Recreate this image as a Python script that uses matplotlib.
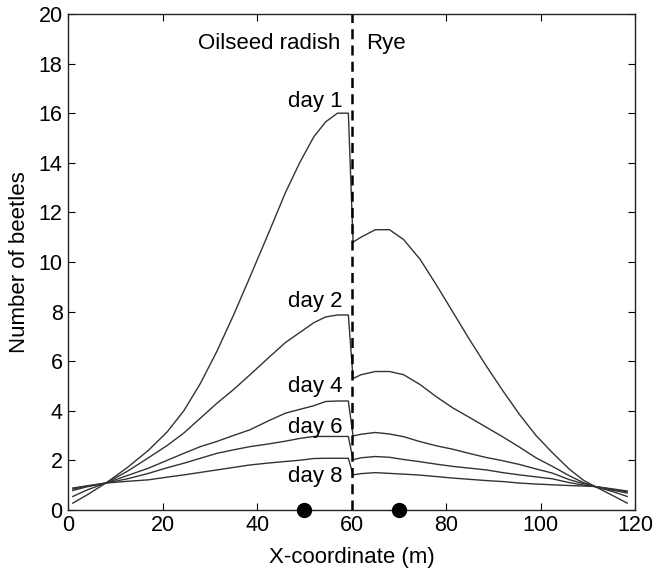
import matplotlib
matplotlib.use('Agg')
import matplotlib.pyplot as plt

plt.rcParams['font.family'] = ['Liberation Sans', 'DejaVu Sans']

# x positions (m) shared by all curves
x = [1, 4, 8, 12.5, 17, 21, 24.5, 28, 31.5, 35, 38.5, 42.5, 46, 49, 52, 54.5, 57, 59.3,
     60.3, 62, 65, 68, 71, 74.5, 78, 81.5, 85, 88.5, 92, 95.5, 99, 102.5, 106, 109, 111.5, 115, 118.3]

day1 = [0.27, 0.6, 1.08, 1.7, 2.4, 3.15, 4.0, 5.1, 6.4, 7.85, 9.4, 11.2, 12.8, 14.0, 15.05, 15.65, 16.0, 16.0,
        10.8, 11.0, 11.3, 11.3, 10.9, 10.1, 9.05, 7.95, 6.85, 5.8, 4.8, 3.85, 3.0, 2.3, 1.65, 1.2, 0.94, 0.6, 0.27]
day2 = [0.54, 0.8, 1.08, 1.55, 2.1, 2.6, 3.1, 3.7, 4.3, 4.85, 5.45, 6.15, 6.75, 7.15, 7.55, 7.78, 7.86, 7.86,
        5.3, 5.45, 5.58, 5.58, 5.45, 5.05, 4.55, 4.1, 3.72, 3.33, 2.94, 2.53, 2.1, 1.75, 1.38, 1.1, 0.94, 0.75, 0.54]
day4 = [0.78, 0.93, 1.08, 1.38, 1.68, 2.0, 2.28, 2.55, 2.76, 3.0, 3.23, 3.6, 3.9, 4.05, 4.2, 4.37, 4.39, 4.39,
        2.98, 3.05, 3.12, 3.06, 2.95, 2.75, 2.58, 2.44, 2.27, 2.11, 1.98, 1.83, 1.65, 1.48, 1.22, 1.06, 0.94, 0.8, 0.68]
day6 = [0.84, 0.95, 1.08, 1.25, 1.47, 1.7, 1.88, 2.08, 2.28, 2.42, 2.55, 2.66, 2.77, 2.88, 2.96, 2.96, 2.96, 2.96,
        2.02, 2.1, 2.15, 2.12, 2.03, 1.94, 1.84, 1.75, 1.68, 1.61, 1.5, 1.41, 1.33, 1.25, 1.1, 1.0, 0.94, 0.83, 0.72]
day8 = [0.88, 0.97, 1.08, 1.15, 1.21, 1.32, 1.41, 1.51, 1.61, 1.71, 1.81, 1.89, 1.95, 2.0, 2.07, 2.08, 2.08, 2.08,
        1.41, 1.46, 1.5, 1.47, 1.44, 1.4, 1.34, 1.28, 1.23, 1.18, 1.14, 1.08, 1.04, 1.01, 0.98, 0.96, 0.94, 0.85, 0.76]

curves = [day1, day2, day4, day6, day8]
day_labels = ['day 1', 'day 2', 'day 4', 'day 6', 'day 8']
label_y = [16.26, 8.2, 4.77, 3.09, 1.14]

boundary_x = 60
trap_x = [50, 70]

fig = plt.figure(figsize=(6.61, 5.84), dpi=100)
ax = fig.add_axes([0.103, 0.127, 0.858, 0.849])

for c in curves:
    ax.plot(x, c, color='#333333', linewidth=1.0)

# field boundary
ax.plot([boundary_x, boundary_x], [0, 20], color='black', linewidth=1.8, linestyle=(0, (4, 2.5)))

# traps
ax.plot(trap_x, [0, 0], 'o', color='black', markersize=10, clip_on=False, zorder=5)

for lab, yy in zip(day_labels, label_y):
    ax.text(58.1, yy, lab, ha='right', va='baseline', fontsize=16)

ax.text(57.7, 18.58, 'Oilseed radish', ha='right', va='baseline', fontsize=16)
ax.text(63, 18.58, 'Rye', ha='left', va='baseline', fontsize=16)

ax.set_xlim(0, 120)
ax.set_ylim(0, 20)
ax.set_xticks(range(0, 121, 20))
ax.set_yticks(range(0, 21, 2))
ax.tick_params(direction='in', top=True, right=True, length=5, labelsize=15.5, pad=4)
for s in ax.spines.values():
    s.set_linewidth(1.0)
    s.set_color('#222222')

ax.set_xlabel('X-coordinate (m)', fontsize=16, labelpad=8)
ax.set_ylabel('Number of beetles', fontsize=16, labelpad=6)

fig.savefig('out.png', dpi=100)
